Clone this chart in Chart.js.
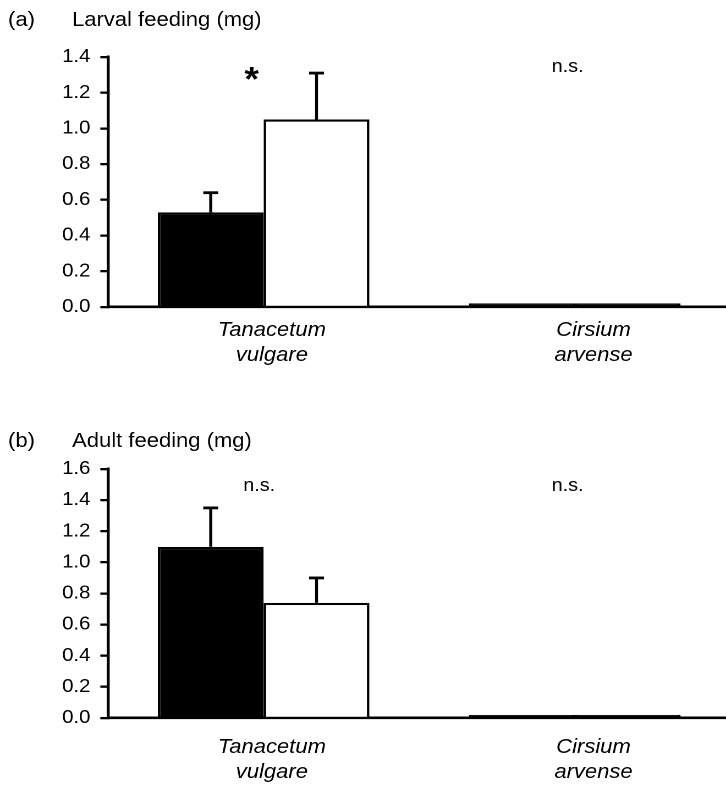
<!DOCTYPE html>
<html>
<head>
<meta charset="utf-8">
<script src="https://cdn.jsdelivr.net/npm/chart.js@4.4.1/dist/chart.umd.min.js"></script>
<style>
  html, body { margin: 0; padding: 0; background: #fff; width: 726px; height: 785px; overflow: hidden; }
  .panel { position: absolute; left: 0; transform-origin: 0 0; transform: scaleX(1.1); }
  #panelA { top: 0; }
  #panelB { top: 385px; }
</style>
</head>
<body>
<div class="panel" id="panelA"><canvas id="larval" width="664" height="385"></canvas></div>
<div class="panel" id="panelB"><canvas id="adult" width="664" height="400"></canvas></div>
<script>
// Host plants (two-line italic labels)
const categories = [['Tanacetum', 'vulgare'], ['Cirsium', 'arvense']];

// (a) Larval feeding (mg): means and standard errors
const larvalDark = [0.53, 0.02];
const larvalLight = [1.05, 0.02];
const larvalDarkSE = [0.11, 0];
const larvalLightSE = [0.26, 0];
const larvalSig = ['*', 'n.s.'];
const larvalTicks = [0.0, 0.2, 0.4, 0.6, 0.8, 1.0, 1.2, 1.4];

// (b) Adult feeding (mg): means and standard errors
const adultDark = [1.10, 0.02];
const adultLight = [0.74, 0.02];
const adultDarkSE = [0.25, 0];
const adultLightSE = [0.16, 0];
const adultSig = ['n.s.', 'n.s.'];
const adultTicks = [0.0, 0.2, 0.4, 0.6, 0.8, 1.0, 1.2, 1.4, 1.6];

const FONT = '"Liberation Sans", Arial, Helvetica, sans-serif';

// draw text centred on its ink box
function inkText(ctx, txt, cx, cy) {
  const m = ctx.measureText(txt);
  ctx.textAlign = 'left';
  ctx.textBaseline = 'alphabetic';
  const x = cx - (m.actualBoundingBoxRight - m.actualBoundingBoxLeft) / 2;
  const y = cy + (m.actualBoundingBoxAscent - m.actualBoundingBoxDescent) / 2;
  ctx.fillText(txt, x, y);
}

function decor(p) {
  return {
    id: 'decor',
    afterDatasetsDraw(chart) {
      const ctx = chart.ctx;
      const xs = chart.scales.x, ys = chart.scales.y;
      ctx.save();
      ctx.strokeStyle = '#000';
      ctx.fillStyle = '#000';
      // error bars (upper whisker only)
      [p.darkSE, p.lightSE].forEach((se, d) => {
        const meta = chart.getDatasetMeta(d);
        const vals = chart.data.datasets[d].data;
        meta.data.forEach((bar, i) => {
          if (!se[i]) return;
          const y0 = ys.getPixelForValue(vals[i]);
          const y1 = ys.getPixelForValue(vals[i] + se[i]);
          ctx.lineWidth = 2.7;
          ctx.beginPath(); ctx.moveTo(bar.x, y0); ctx.lineTo(bar.x, y1); ctx.stroke();
          ctx.lineWidth = 2.8;
          ctx.beginPath(); ctx.moveTo(bar.x - 6.8, y1); ctx.lineTo(bar.x + 6.8, y1); ctx.stroke();
        });
      });
      // significance marks
      p.sig.forEach((s, i) => {
        ctx.font = s === '*' ? 'bold 34px ' + FONT : '18px ' + FONT;
        inkText(ctx, s, xs.getPixelForValue(i) + p.sigShift[i], ys.getPixelForValue(p.sigLevel[i]));
      });
      // category labels
      ctx.font = 'italic 20px ' + FONT;
      ctx.textAlign = 'center';
      ctx.textBaseline = 'alphabetic';
      categories.forEach((lines, i) => {
        const cx = xs.getPixelForValue(i) + p.labelShift[i];
        lines.forEach((t, k) => ctx.fillText(t, cx, ys.bottom + p.labelBase[k]));
      });
      // panel tag and title
      ctx.font = '20px ' + FONT;
      ctx.textAlign = 'left';
      ctx.fillText(p.tag, 7.3, p.titleBase);
      ctx.fillText(p.title, 65.5, p.titleBase);
      ctx.restore();
    }
  };
}

function makePanel(id, p) {
  return new Chart(document.getElementById(id), {
    type: 'bar',
    data: {
      labels: categories.map(c => c.join(' ')),
      datasets: [
        { data: p.dark, backgroundColor: '#000', borderColor: '#000', borderWidth: 2.3 },
        // near-zero bars read as a solid black sliver
        { data: p.light, backgroundColor: ['#fff', '#000'], borderColor: '#000', borderWidth: 2.3 }
      ]
    },
    options: {
      responsive: false,
      animation: false,
      devicePixelRatio: 2,
      layout: { padding: { top: p.padTop, bottom: p.padBottom, left: 0, right: 0 } },
      datasets: { bar: { categoryPercentage: 0.68, barPercentage: 1 } },
      scales: {
        x: {
          z: 1,
          grid: { display: false, drawTicks: false },
          ticks: { display: false },
          border: { display: true, color: '#000', width: 2.6 }
        },
        y: {
          z: 1,
          min: 0,
          max: p.ticks[p.ticks.length - 1],
          afterBuildTicks: s => { s.ticks = p.ticks.map(v => ({ value: v })); },
          afterFit: s => { s.width = 98.2; },
          ticks: {
            callback: v => Number(v).toFixed(1),
            color: '#000',
            font: { family: FONT, size: 18.5 },
            padding: 9
          },
          grid: { drawOnChartArea: false, drawTicks: true, tickLength: 7, color: '#000', lineWidth: 2.3 },
          border: { display: true, color: '#000', width: 2.7 }
        }
      },
      plugins: { legend: { display: false }, tooltip: { enabled: false } }
    },
    plugins: [decor(p)]
  });
}

makePanel('larval', {
  dark: larvalDark, light: larvalLight, darkSE: larvalDarkSE, lightSE: larvalLightSE,
  sig: larvalSig, ticks: larvalTicks,
  tag: '(a)', title: 'Larval feeding (mg)', titleBase: 26,
  padTop: 57, padBottom: 78,
  sigShift: [-10.5, -6.5], sigLevel: [1.305, 1.344],
  labelShift: [7.5, 17], labelBase: [29, 54]
});

makePanel('adult', {
  dark: adultDark, light: adultLight, darkSE: adultDarkSE, lightSE: adultLightSE,
  sig: adultSig, ticks: adultTicks,
  tag: '(b)', title: 'Adult feeding (mg)', titleBase: 62,
  padTop: 84, padBottom: 67,
  sigShift: [-4, -6.5], sigLevel: [1.49, 1.49],
  labelShift: [7.5, 17], labelBase: [35, 60]
});
</script>
</body>
</html>
